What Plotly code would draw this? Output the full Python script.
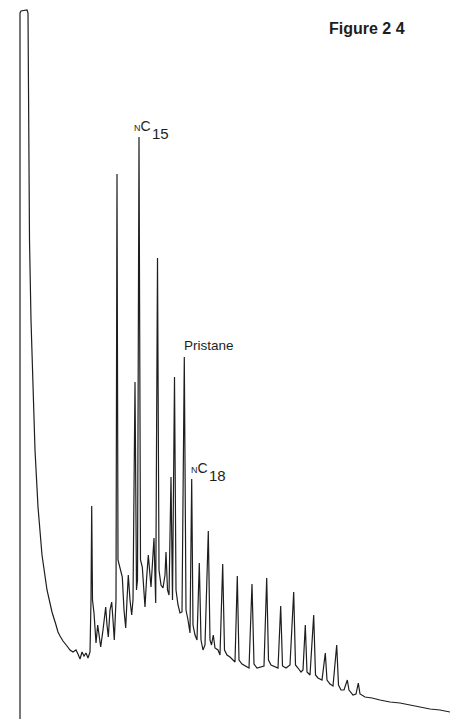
import plotly.graph_objects as go

# Retention position (arbitrary units) and detector response (arbitrary units)
retention = [
    20, 20, 21, 27, 28, 29, 29.5, 31, 33, 35, 38, 42, 47, 52, 56, 58, 60, 63, 67, 70,
    73, 76, 78, 80, 82, 84, 86, 88, 90, 91, 91.7, 92.5, 94, 96, 97.7, 100.7, 103, 105.7,
    107, 108.3, 110, 111.7, 113, 114.3, 116, 117, 118, 120, 122.3, 124, 125.7, 127, 128.3,
    130, 131.7, 133, 135, 136.5, 137.5, 139, 140.5, 142.3, 145, 146.5, 148.3, 151, 152.5,
    154, 155.7, 157.5, 159, 161, 163, 165, 166, 167.5, 169, 171, 172.5, 174.5, 176, 178,
    180, 182, 184.3, 186, 188, 190, 191.7, 193, 195, 197, 199.3, 201, 203, 205, 208.3,
    210, 211.5, 213.3, 215, 218, 220, 222.7, 224.5, 227, 230, 233, 235, 237.3, 239, 242,
    245, 249, 252, 254, 257, 260, 264, 266.7, 268.5, 271, 275, 278, 280.7, 282.5, 286,
    290, 293.7, 295.5, 298, 301, 303, 305.3, 307, 310, 313.7, 315.5, 318, 322, 325.3,
    327, 330, 333, 336.7, 338.5, 341, 344, 347.3, 349, 353, 356, 358.3, 360, 365, 372,
    380, 390, 400, 410, 420, 430, 440, 450,
]
response = [
    0, 706, 708, 709, 706, 569, 479, 399, 329, 269, 212, 164, 129, 107, 94, 87, 83, 78, 73, 69,
    67, 69, 65, 60, 67, 63, 66, 61, 67, 119, 213, 119, 106, 76, 94, 72, 89, 112,
    94, 82, 109, 117, 99, 79, 119, 545, 159, 152, 142, 109, 91, 119, 144,
    119, 104, 119, 337, 129, 139, 582, 159, 152, 112, 139, 164, 132, 159,
    181, 116, 461, 149, 134, 131, 144, 167, 129, 124, 242, 119, 342, 129, 114,
    106, 107, 362, 109, 99, 86, 240, 94, 84, 79, 156, 79, 69, 74, 188,
    79, 74, 84, 71, 69, 64, 155, 69, 64, 62, 59, 57, 143, 59, 55,
    53, 51, 135, 55, 51, 52, 53, 141, 59, 54, 52, 51, 113, 53, 51,
    54, 127, 54, 51, 47, 49, 94, 47, 44, 104, 44, 41, 39, 66,
    39, 35, 33, 74, 34, 29, 29, 39, 29, 24, 25, 36, 25, 22, 21,
    19, 17, 16, 14, 12, 10, 9, 7,
]

# Peak labels: normal alkanes (prefix "N", "C", carbon-number subscript) and pristane
alkane_numbers = ["15", "18"]
alkane_pos = [139, 191.7]
alkane_top = [582, 240]
pristane_pos = 184.3
pristane_top = [362]

FONT = "Liberation Sans, Arial, Helvetica, sans-serif"
INK = "#1e1e1e"

fig = go.Figure()
fig.add_trace(go.Scatter(
    x=retention, y=response, mode="lines",
    line=dict(color=INK, width=1.2),
    hoverinfo="skip", showlegend=False,
))

for num, px, pt, nx in zip(alkane_numbers, alkane_pos, alkane_top, [1.0, 5.0]):
    # "NC" part, right-aligned just before the subscript
    fig.add_annotation(
        x=px, y=pt, text="<span style='font-size:9px'>N</span>C", showarrow=False,
        xanchor="right", yanchor="middle", xshift=13 + nx, yshift=11,
        font=dict(family=FONT, size=14, color=INK),
    )
    # subscript carbon number
    fig.add_annotation(
        x=px, y=pt, text=num, showarrow=False,
        xanchor="left", yanchor="middle", xshift=10 + nx, yshift=4,
        font=dict(family=FONT, size=15, color=INK),
    )

fig.add_annotation(
    x=pristane_pos, y=pristane_top[0], text="Pristane", showarrow=False,
    xanchor="left", yanchor="middle", xshift=-2, yshift=12,
    font=dict(family=FONT, size=13.5, color=INK),
)

fig.add_annotation(
    xref="paper", yref="paper", x=0.727, y=0.961, xanchor="left", yanchor="middle",
    text="<b>Figure 2 4</b>", showarrow=False,
    font=dict(family=FONT, size=16, color=INK),
)

fig.update_layout(
    width=450, height=719,
    margin=dict(l=0, r=0, t=0, b=0),
    paper_bgcolor="white", plot_bgcolor="white",
    xaxis=dict(range=[0, 450], visible=False, fixedrange=True),
    yaxis=dict(range=[0, 719], visible=False, fixedrange=True),
)

fig.write_html("out.html")
